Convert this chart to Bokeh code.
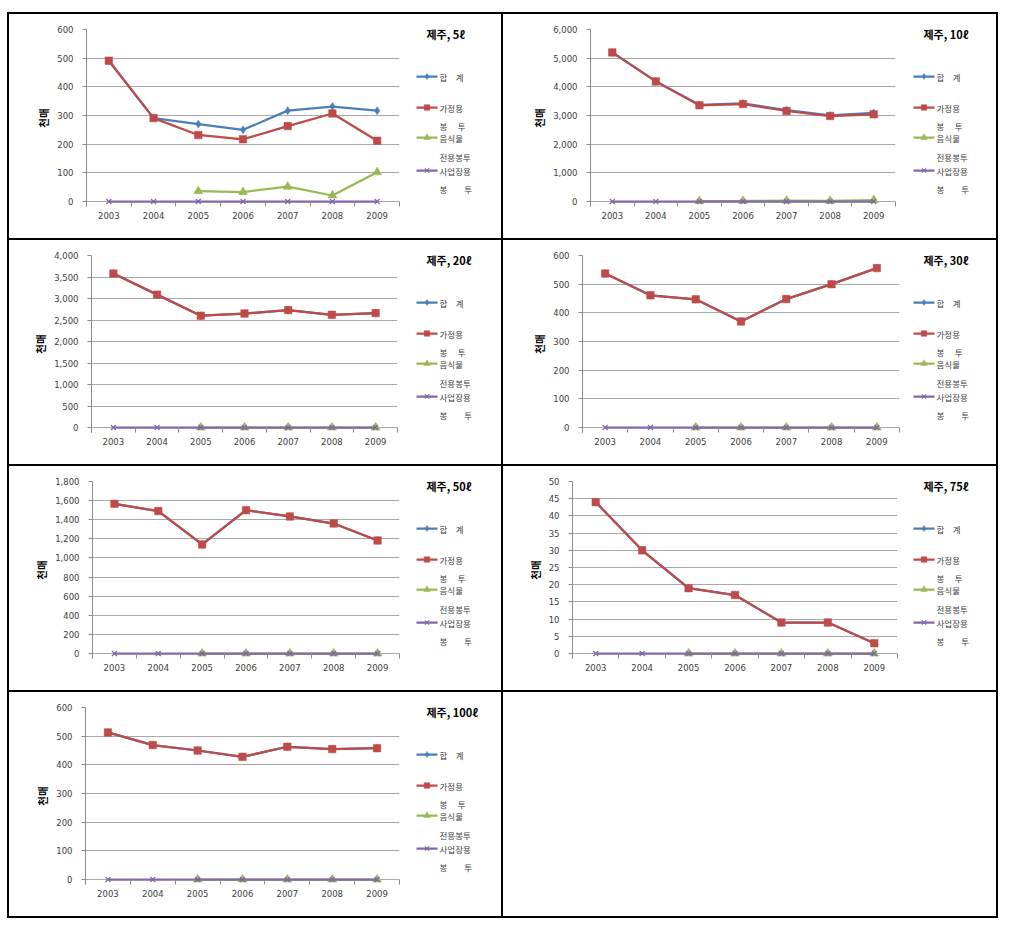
from bokeh.plotting import figure
from bokeh.layouts import row, column
from bokeh.models import Range1d, FixedTicker, NumeralTickFormatter, Spacer
from bokeh.core.properties import value
from bokeh.embed import file_html
from bokeh.resources import INLINE

NaN = float("nan")

# ---------------- data ----------------
years = [2003, 2004, 2005, 2006, 2007, 2008, 2009]
titles = ["제주, 5ℓ", "제주, 10ℓ", "제주, 20ℓ", "제주, 30ℓ", "제주, 50ℓ", "제주, 75ℓ", "제주, 100ℓ"]
y_axis_label = "천매"

# 합 계
total_5 = [491, 291, 270, 250, 317, 331, 317]
total_10 = [5200, 4190, 3370, 3420, 3187, 3002, 3090]
total_20 = [3580, 3090, 2600, 2650, 2730, 2620, 2660]
total_30 = [537, 461, 447, 370, 448, 500, 556]
total_50 = [1566, 1490, 1141, 1500, 1434, 1360, 1183]
total_75 = [44, 30, 19, 17, 9, 9, 3]
total_100 = [513, 469, 450, 428, 463, 455, 458]

# 가정용 봉투
home_5 = [491, 291, 232, 217, 263, 307, 212]
home_10 = [5200, 4190, 3355, 3400, 3157, 2982, 3040]
home_20 = [3580, 3090, 2600, 2650, 2730, 2620, 2660]
home_30 = [537, 461, 447, 370, 448, 500, 556]
home_50 = [1566, 1490, 1141, 1500, 1434, 1360, 1183]
home_75 = [44, 30, 19, 17, 9, 9, 3]
home_100 = [513, 469, 450, 428, 463, 455, 458]

# 음식물 전용봉투
food_5 = [NaN, NaN, 36, 33, 52, 21, 102]
food_10 = [NaN, NaN, 15, 20, 30, 20, 50]
food_20 = [NaN, NaN, 0, 0, 0, 0, 0]
food_30 = [NaN, NaN, 0, 0, 0, 0, 0]
food_50 = [NaN, NaN, 0, 0, 0, 0, 0]
food_75 = [NaN, NaN, 0, 0, 0, 0, 0]
food_100 = [NaN, NaN, 0, 0, 0, 0, 0]

# 사업장용 봉투
biz_5 = [0, 0, 0, 0, 0, 0, 0]
biz_10 = [0, 0, 0, 0, 0, 0, 0]
biz_20 = [0, 0, 0, 0, 0, 0, 0]
biz_30 = [0, 0, 0, 0, 0, 0, 0]
biz_50 = [0, 0, 0, 0, 0, 0, 0]
biz_75 = [0, 0, 0, 0, 0, 0, 0]
biz_100 = [0, 0, 0, 0, 0, 0, 0]

y_max = [600, 6000, 4000, 600, 1800, 50, 600]
y_step = [100, 1000, 500, 100, 200, 5, 100]

legend_lines = [["합\u3000계"], ["가정용", "봉\u3000 투"], ["음식물", "전용봉투"], ["사업장용", "봉\u3000\u3000투"]]

panels = [
    (total_5, home_5, food_5, biz_5),
    (total_10, home_10, food_10, biz_10),
    (total_20, home_20, food_20, biz_20),
    (total_30, home_30, food_30, biz_30),
    (total_50, home_50, food_50, biz_50),
    (total_75, home_75, food_75, biz_75),
    (total_100, home_100, food_100, biz_100),
]

# ---------------- styling / layout ----------------
colors = ["#4A7EBB", "#BE4B48", "#98B954", "#8467A8"]
markers = ["diamond", "square", "triangle", "x"]
msizes = [8, 7.5, 9, 7]
lmsizes = [6, 5.5, 6.5, 6]

CELL_W = [492, 493]
CELL_H = 224
CHART_W = 400
FRAME_TOP = 15
ZERO_Y = 187          # pixel row of the value 0 inside a cell
BELOW = 5             # extra frame pixels below 0 so markers on 0 are not clipped
FRAME_H = ZERO_Y + BELOW - FRAME_TOP
FRAME_BOTTOM = CELL_H - FRAME_TOP - FRAME_H
# frame left / right edges within each cell
frame_lr = [(77, 390), (87, 392), (82, 388), (79, 396), (83, 390), (69, 394), (76, 390)]

KFONT = "Noto Sans CJK KR"
NFONT = "DejaVu Sans"
GRID = "#A8A8A8"
AXIS = "#8C8C8C"
TXT = "#404040"


def add_marks(fig, xs, ys, k, size):
    if markers[k] == "x":
        fig.scatter(xs, ys, marker="x", size=size, line_color=colors[k], line_width=1.2)
    else:
        fig.scatter(xs, ys, marker=markers[k], size=size, fill_color=colors[k],
                    line_color=colors[k], line_width=0.5)


def make_chart(i):
    fl, fr = frame_lr[i]
    top = y_max[i]
    per_px = top / (ZERO_Y - FRAME_TOP)
    p = figure(width=CHART_W, height=CELL_H, output_backend="svg", toolbar_location=None,
               x_range=Range1d(2002.5, 2009.5), y_range=Range1d(-BELOW * per_px, top),
               min_border_left=fl, min_border_right=CHART_W - fr,
               min_border_top=FRAME_TOP, min_border_bottom=FRAME_BOTTOM)
    p.outline_line_color = None
    p.border_fill_color = "white"
    p.background_fill_color = "white"
    p.xgrid.visible = False
    yt = FixedTicker(ticks=list(range(0, top + 1, y_step[i])))
    p.yaxis.ticker = yt
    p.ygrid.ticker = yt
    p.ygrid.grid_line_color = GRID
    p.ygrid.grid_line_width = 1
    p.yaxis.formatter = NumeralTickFormatter(format="0,0")
    p.yaxis.major_tick_out = 4
    p.yaxis.major_tick_in = 0
    p.yaxis.minor_tick_line_color = None
    p.yaxis.major_label_standoff = 9
    p.yaxis.axis_label = y_axis_label
    p.yaxis.axis_label_text_font = KFONT
    p.yaxis.axis_label_text_font_style = "bold"
    p.yaxis.axis_label_text_font_size = "10.5px"
    p.yaxis.axis_label_text_color = "#000000"
    p.yaxis.axis_label_standoff = 3

    # x axis sits BELOW px under the zero line; the zero grid line acts as the axis line
    p.xaxis.ticker = FixedTicker(ticks=years, minor_ticks=[y - 0.5 for y in years] + [years[-1] + 0.5])
    p.xaxis.major_tick_out = 0
    p.xaxis.major_tick_in = 0
    p.xaxis.minor_tick_out = 0
    p.xaxis.minor_tick_in = BELOW
    p.xaxis.minor_tick_line_color = AXIS
    p.xaxis.axis_line_color = None
    p.xaxis.major_label_standoff = 5

    for ax in (p.xaxis, p.yaxis):
        ax.major_label_text_font = NFONT
        ax.major_label_text_font_size = "8.5px"
        ax.major_label_text_color = TXT
    p.yaxis.axis_line_color = AXIS
    p.yaxis.major_tick_line_color = AXIS
    p.xaxis.major_tick_line_color = None

    for k, ys in enumerate(panels[i]):
        p.line(years, ys, line_color=colors[k], line_width=2.25)
        add_marks(p, years, ys, k, msizes[k])
    return p


def make_legend(i, width, dx):
    # frame aligned with the chart's frame; y coordinates are pixels from the cell top
    q = figure(width=width, height=CELL_H, output_backend="svg", toolbar_location=None,
               x_range=Range1d(0, width), y_range=Range1d(FRAME_TOP + FRAME_H, FRAME_TOP),
               min_border_left=0, min_border_right=0,
               min_border_top=FRAME_TOP, min_border_bottom=FRAME_BOTTOM,
               x_axis_type=None, y_axis_type=None)
    q.outline_line_color = None
    q.grid.visible = False
    q.border_fill_color = "white"
    q.background_fill_color = "white"
    q.text([17 + dx], [19.5], text=[titles[i]], text_font=value(KFONT), text_font_style="bold",
           text_font_size="11px", text_color="#000000", text_baseline="middle")
    rows_y = [62, 93, 123, 156]
    second = [0, 18, 19, 18]
    for k in range(4):
        y = rows_y[k]
        q.segment(x0=[7 + dx], y0=[y], x1=[28 + dx], y1=[y], line_color=colors[k], line_width=2.25)
        add_marks(q, [17.5 + dx], [y], k, lmsizes[k])
        labels = legend_lines[k]
        xs = [30 + dx] * len(labels)
        ys = [y + j * second[k] for j in range(len(labels))]
        q.text(xs, ys, text=labels, text_font=value(KFONT), text_font_size="8.5px",
               text_color=TXT, text_baseline="middle")
    return q


cells = []
for i in range(7):
    col = i % 2
    cw = CELL_W[col]
    dx = 0 if col == 0 else 3
    cells.append(row(make_chart(i), make_legend(i, cw - CHART_W, dx), spacing=0,
                     styles={"background-color": "white"}))

empty = Spacer(width=CELL_W[1], height=CELL_H, styles={"background-color": "white"})
cells.append(empty)

rows = [row(cells[2 * r], cells[2 * r + 1], spacing=2) for r in range(4)]
grid = column(*rows, spacing=2, styles={"background-color": "#000000", "padding": "2px"})
layout = column(Spacer(height=12), row(Spacer(width=7), grid, spacing=0), spacing=0)

open("out.html", "w").write(file_html(layout, INLINE))
